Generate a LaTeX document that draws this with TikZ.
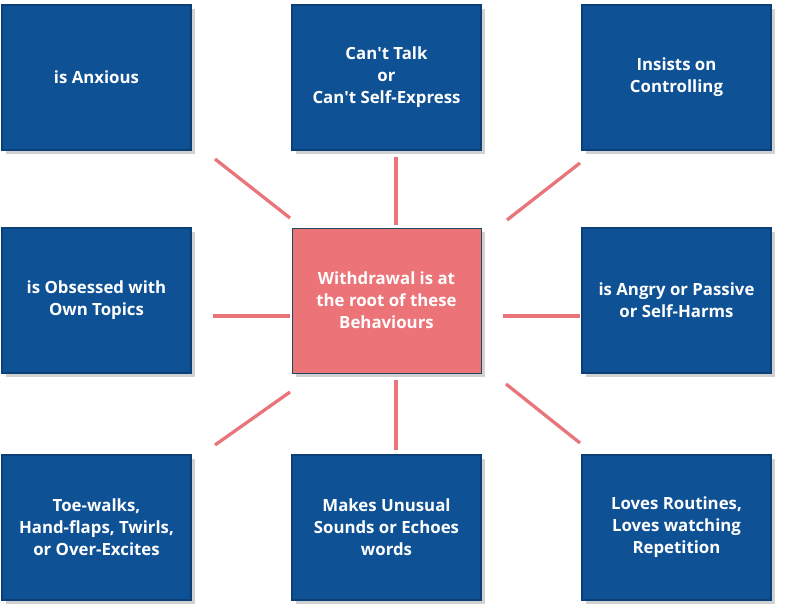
\documentclass[tikz,border=0pt]{standalone}
\usepackage{fontspec}
\setmainfont{Open Sans}
\usetikzlibrary{shadows}
\definecolor{boxblue}{HTML}{0F5195}
\definecolor{boxedge}{HTML}{0A3F78}
\definecolor{pinkbox}{HTML}{EC7479}
\definecolor{pinkline}{HTML}{E9757B}
\definecolor{tealedge}{HTML}{1C4A5C}
\tikzset{
  x=1pt, y=-1pt,
  bluebox/.style={rectangle, fill=boxblue, draw=boxedge, line width=1.2pt,
    minimum width=189pt, minimum height=145pt, align=center, text=white,
    font=\fontsize{16.8}{22}\selectfont\bfseries,
    drop shadow={shadow xshift=4pt, shadow yshift=-4pt, opacity=0.3, fill=black!60}},
  centerbox/.style={bluebox, fill=pinkbox, draw=tealedge, line width=1pt},
  link/.style={draw=pinkline, line width=3.3pt}
}
\begin{document}
\begin{tikzpicture}
\useasboundingbox (0,0) rectangle (788,605);
\node[bluebox] (tl) at (96.5,77.5) {is Anxious};
\node[bluebox] (tm) at (386.5,77.5) {Can\textquotesingle t Talk\\or\\Can\textquotesingle t Self-Express};
\node[bluebox] (tr) at (676.5,77.5) {Insists on\\Controlling};
\node[bluebox] (ml) at (96.5,300.5) {is Obsessed with\\Own Topics};
\node[centerbox] (c) at (386.5,300.5) {Withdrawal is at\\the root of these\\Behaviours};
\node[bluebox] (mr) at (676.5,300.5) {is Angry or Passive\\or Self-Harms};
\node[bluebox] (bl) at (96.5,527.5) {Toe-walks,\\Hand-flaps, Twirls,\\or Over-Excites};
\node[bluebox] (bm) at (386.5,527.5) {Makes Unusual\\Sounds or Echoes\\words};
\node[bluebox] (br) at (676.5,527.5) {Loves Routines,\\Loves watching\\Repetition};
\coordinate (a1) at (215,159); \coordinate (a2) at (290,218);
\coordinate (b1) at (396,157); \coordinate (b2) at (396,225);
\coordinate (c1) at (580,163); \coordinate (c2) at (507,220);
\coordinate (d1) at (213,316); \coordinate (d2) at (290,316);
\coordinate (e1) at (503,316); \coordinate (e2) at (580,316);
\coordinate (f1) at (215,445); \coordinate (f2) at (290,392);
\coordinate (g1) at (396,380); \coordinate (g2) at (396,450);
\coordinate (h1) at (506,384); \coordinate (h2) at (580,443);
\draw[link] (a1) -- (a2);
\draw[link] (b1) -- (b2);
\draw[link] (c1) -- (c2);
\draw[link] (d1) -- (d2);
\draw[link] (e1) -- (e2);
\draw[link] (f1) -- (f2);
\draw[link] (g1) -- (g2);
\draw[link] (h1) -- (h2);
\end{tikzpicture}
\end{document}
